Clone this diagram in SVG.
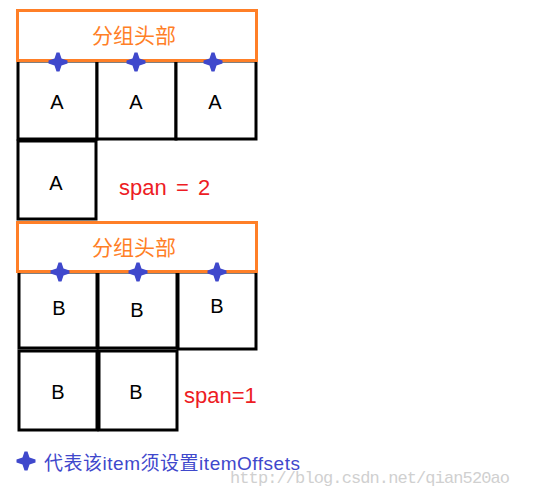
<svg xmlns="http://www.w3.org/2000/svg" width="555" height="498" viewBox="0 0 555 498">
<style>
.cell{fill:#fff;stroke:#000;stroke-width:3}
.hdr{fill:#fff;stroke:#ff7f27;stroke-width:3}
.ht{font-family:"Noto Sans CJK SC","Noto Sans CJK JP",sans-serif;font-size:21px;fill:#ff7f27;text-anchor:middle}
.lt{font-family:"Liberation Sans",Arial,sans-serif;font-size:20px;fill:#000;text-anchor:middle}
.sp{font-family:"Liberation Sans",Arial,sans-serif;font-size:22px;fill:#ed1c24}
.leg{font-family:"Liberation Sans","Noto Sans CJK SC",sans-serif;font-size:19px;fill:#3f48cc}
.wm{font-family:"Liberation Mono","Courier New",monospace;font-size:17px;fill:#d0d0d0}
.star{fill:#3f48cc}
</style>
<defs>
<path id="st" d="M-1.5,-9.5 L1.5,-9.5 L3.5,-3.5 L9.5,-1.5 L9.5,1.5 L3.5,3.5 L1.5,9.5 L-1.5,9.5 L-3.5,3.5 L-9.5,1.5 L-9.5,-1.5 L-3.5,-3.5 Z"/>
</defs>
<g id="groupA">
<g id="a1"><rect class="cell" x="18" y="61" width="79" height="78"/><text class="lt" x="57" y="109">A</text></g>
<g id="a2"><rect class="cell" x="97" y="61" width="79" height="78"/><text class="lt" x="136" y="109">A</text></g>
<g id="a3"><rect class="cell" x="176" y="61" width="80" height="78"/><text class="lt" x="215" y="109">A</text></g>
<g id="a4"><rect class="cell" x="18" y="141" width="78" height="78"/><text class="lt" x="56" y="190">A</text></g>
<g id="headerA"><rect class="hdr" x="17.5" y="10.5" width="239" height="50"/><text class="ht" x="134" y="43">分组头部</text></g>
<text class="sp" y="195"><tspan x="119">span</tspan><tspan x="176">=</tspan><tspan x="198">2</tspan></text>
</g>
<g id="groupB">
<g id="b1"><rect class="cell" x="19" y="272" width="78" height="76"/><text class="lt" x="59" y="315">B</text></g>
<g id="b2"><rect class="cell" x="98" y="272" width="79" height="76"/><text class="lt" x="137" y="317">B</text></g>
<g id="b3"><rect class="cell" x="178" y="272" width="78" height="77"/><text class="lt" x="217" y="313">B</text></g>
<g id="b4"><rect class="cell" x="19" y="351" width="78" height="79"/><text class="lt" x="58" y="399">B</text></g>
<g id="b5"><rect class="cell" x="99" y="351" width="78" height="79"/><text class="lt" x="136" y="399">B</text></g>
<g id="headerB"><rect class="hdr" x="17.5" y="222.5" width="239" height="49"/><text class="ht" x="134" y="255">分组头部</text></g>
<text class="sp" x="184" y="403">span=1</text>
</g>
<g id="stars">
<use href="#st" class="star" x="58" y="62"/>
<use href="#st" class="star" x="136" y="62"/>
<use href="#st" class="star" x="213" y="62"/>
<use href="#st" class="star" x="60" y="272"/>
<use href="#st" class="star" x="138" y="272"/>
<use href="#st" class="star" x="217" y="272"/>
</g>
<g id="legend">
<use href="#st" class="star" x="26" y="461"/>
<text class="leg" x="44" y="470" textLength="256">代表该item须设置itemOffsets</text>
</g>
<text class="wm" x="230" y="483" textLength="280">http://blog.csdn.net/qian520ao</text>
</svg>
